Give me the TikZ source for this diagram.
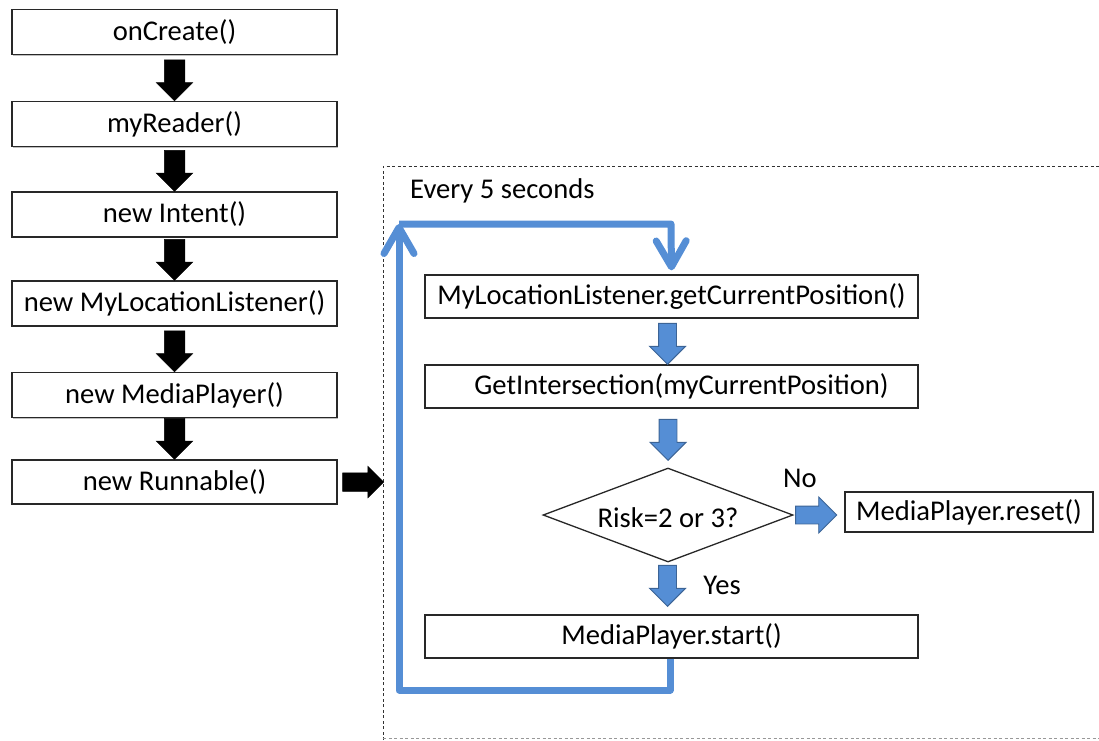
\documentclass[tikz,border=0pt]{standalone}
\usepackage{fontspec}
\setmainfont{Carlito}
\usetikzlibrary{shapes.geometric,shapes.arrows,arrows.meta,calc,shadows}
\definecolor{loopblue}{RGB}{85,142,213}
\definecolor{arrblue}{RGB}{85,142,213}
\definecolor{arredge}{RGB}{60,100,150}
\definecolor{boxline}{RGB}{40,40,40}
\definecolor{dashgray}{RGB}{50,50,50}
\begin{document}
\begin{tikzpicture}[x=1pt,y=-1pt,
  font=\fontsize{28.6}{32}\selectfont,
  box/.style={draw=boxline, line width=1.3pt, fill=white, inner sep=0pt,
    drop shadow={shadow xshift=1.2pt, shadow yshift=-1.2pt, opacity=0.25, fill=black}},
  lbox/.style={box, minimum width=325pt, minimum height=45pt},
  rbox/.style={box, minimum width=493pt, minimum height=43pt},
  blk/.style={single arrow, fill=black, draw=black, line width=0.5pt, inner sep=10pt,
    single arrow head extend=8pt, minimum height=41pt, outer sep=0pt},
  blkr/.style={single arrow, fill=black, draw=black, line width=0.5pt, inner sep=9pt,
    single arrow head extend=6.5pt, minimum height=41pt, outer sep=0pt},
  blu/.style={single arrow, fill=arrblue, draw=arredge, line width=0.9pt, inner sep=8.5pt,
    single arrow head extend=9pt, minimum height=41pt, outer sep=0pt},
  loopline/.style={draw=loopblue, line width=7pt, line join=round},
  barb/.style={-{Straight Barb[length=26pt,width=30pt,round]}},
  lbl/.style={inner sep=0pt}
]
\useasboundingbox (0,0) rectangle (1099,740);

% dashed frame
\draw[dashgray, line width=0.9pt, dash pattern=on 3pt off 2.5pt]
  (383,740) -- (383,166) -- (1099,166);
\draw[dashgray!50, line width=0.6pt, dash pattern=on 3pt off 2.5pt]
  (383,738) -- (1099,738);

% left column
\node[lbox] (oncreate) at (174.5,32) {onCreate()};
\node[lbox] (myreader) at (174.5,124) {myReader()};
\node[lbox] (intent)   at (174.5,214.5) {new Intent()};
\node[lbox] (mll)      at (174.5,303.5) {new MyLocationListener()};
\node[lbox] (mp)       at (174.5,395) {new MediaPlayer()};
\node[lbox, minimum height=44pt] (runnable) at (174.5,482) {new Runnable()};

\node[blk, rotate=-90, anchor=tip] (a1) at (myreader.north) {};
\node[blk, rotate=-90, anchor=tip] (a2) at (intent.north) {};
\node[blk, rotate=-90, anchor=tip] (a3) at (mll.north) {};
\node[blk, rotate=-90, anchor=tip] (a4) at (mp.north) {};
\node[blk, rotate=-90, anchor=tip] (a5) at (runnable.north) {};
\node[blkr, anchor=tail] (a6) at ([xshift=5pt]runnable.east) {};

% right part
\node[lbl, anchor=west] (every) at (410,191) {Every 5 seconds};

\node[rbox] (getpos) at (671.5,296.5) {MyLocationListener.getCurrentPosition()};
\node[rbox] (getint) at (671.5,386.5) {\hspace*{20pt}GetIntersection(myCurrentPosition)};
\node[draw=boxline, line width=1.3pt, fill=white, diamond, inner sep=0pt,
      minimum width=250pt, minimum height=94pt,
      label={[yshift=-3pt]center:Risk=2 or 3?}] (risk) at (668,515) {};
\node[box, minimum width=248pt, minimum height=40pt] (reset) at (969,512) {MediaPlayer.reset()};
\node[rbox] (start) at (671.5,636.5) {MediaPlayer.start()};

\node[blu, rotate=-90, anchor=tip] (b1) at ([xshift=-4pt]getint.north) {};
\node[blu, rotate=-90, anchor=tip] (b2) at ([yshift=7pt]risk.north) {};
\node[blu, rotate=-90, anchor=tip] (b3) at ([xshift=-4pt,yshift=8pt]start.north) {};
\node[blu, anchor=tail] (b4) at ([xshift=2pt]risk.east) {};

\node[lbl] (no)  at (800,478) {No};
\node[lbl] (yes) at (722,585) {Yes};

% loop
\coordinate (lb) at (399,690);
\coordinate (lt) at (399,224);
\coordinate (rt) at (671,224);
\draw[loopline, barb] ([xshift=-1.5pt]start.south) |- (lb) -- (lt);
\draw[loopline, barb, shorten >=4pt] (lt) -- (rt) -- (getpos.north);
\end{tikzpicture}
\end{document}
